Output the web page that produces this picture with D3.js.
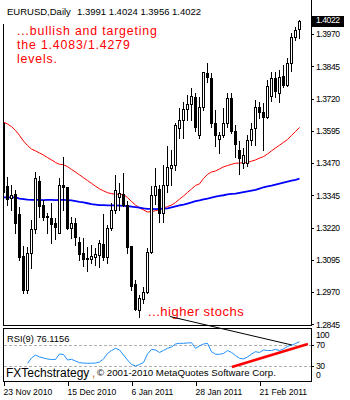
<!DOCTYPE html>
<html>
<head>
<meta charset="utf-8">
<script src="https://cdn.jsdelivr.net/npm/d3@7"></script>
<style>
  html, body { margin: 0; padding: 0; background: #fff; }
  svg { display: block; font-family: "Liberation Sans", Arial, sans-serif; }
</style>
</head>
<body>
<svg id="chart" width="350" height="400"></svg>
<script>
// ---- data: EURUSD daily bars ----
const symbol = "EURUSD,Daily";
const opens  = [1.3624,1.3381,1.3333,1.3350,1.3272,1.3110,1.2978,1.3122,1.3213,1.3401,
                1.3307,1.3265,1.3256,1.3239,1.3200,1.3385,1.3376,1.3219,1.3236,1.3165,
                1.3120,1.3102,1.3099,1.3107,1.3113,1.3156,1.3104,1.3217,1.3288,1.3339,
                1.3349,1.3307,1.3148,1.3001,1.2900,1.2942,1.2971,1.3126,1.3346,1.3368,
                1.3277,1.3385,1.3452,1.3462,1.3604,1.3637,1.3678,1.3699,1.3725,1.3579,
                1.3686,1.3818,1.3798,1.3624,1.3562,1.3579,1.3624,1.3721,1.3594,1.3520,
                1.3470,1.3469,1.3559,1.3604,1.3686,1.3669,1.3649,1.3730,1.3798,1.3742,
                1.3807,1.3772,1.3859,1.3957,1.3991];
const highs  = [1.3644,1.3417,1.3385,1.3365,1.3298,1.3148,1.3146,1.3249,1.3436,1.3420,
                1.3327,1.3275,1.3316,1.3256,1.3411,1.3494,1.3378,1.3262,1.3256,1.3182,
                1.3178,1.3146,1.3152,1.3139,1.3172,1.3271,1.3230,1.3314,1.3423,1.3394,
                1.3432,1.3323,1.3150,1.3017,1.2958,1.2988,1.3139,1.3381,1.3449,1.3385,
                1.3462,1.3536,1.3520,1.3624,1.3682,1.3708,1.3734,1.3760,1.3742,1.3727,
                1.3824,1.3856,1.3820,1.3675,1.3591,1.3682,1.3742,1.3740,1.3617,1.3556,
                1.3528,1.3579,1.3624,1.3714,1.3708,1.3701,1.3792,1.3823,1.3824,1.3830,
                1.3850,1.3876,1.3973,1.3998,1.4024];
const lows   = [1.3334,1.3307,1.3288,1.3200,1.3094,1.2965,1.2967,1.3062,1.3198,1.3262,
                1.3249,1.3200,1.3161,1.3174,1.3198,1.3288,1.3213,1.3178,1.3152,1.3094,
                1.3071,1.3053,1.3081,1.3075,1.3068,1.3094,1.3081,1.3210,1.3277,1.3288,
                1.3304,1.3122,1.2978,1.2900,1.2873,1.2926,1.2965,1.3120,1.3311,1.3242,
                1.3242,1.3359,1.3385,1.3443,1.3566,1.3566,1.3637,1.3637,1.3595,1.3566,
                1.3675,1.3785,1.3608,1.3536,1.3508,1.3572,1.3611,1.3587,1.3493,1.3427,
                1.3451,1.3458,1.3540,1.3540,1.3643,1.3520,1.3645,1.3710,1.3727,1.3708,
                1.3766,1.3768,1.3828,1.3947,1.3956];
const closes = [1.3359,1.3329,1.3346,1.3236,1.3107,1.2978,1.3122,1.3213,1.3411,1.3303,
                1.3262,1.3260,1.3234,1.3223,1.3385,1.3376,1.3217,1.3236,1.3184,1.3117,
                1.3097,1.3097,1.3110,1.3117,1.3159,1.3104,1.3217,1.3288,1.3365,1.3353,
                1.3307,1.3146,1.2993,1.2903,1.2947,1.2971,1.3126,1.3346,1.3381,1.3277,
                1.3385,1.3456,1.3462,1.3617,1.3637,1.3678,1.3699,1.3730,1.3608,1.3688,
                1.3822,1.3802,1.3624,1.3579,1.3579,1.3624,1.3721,1.3595,1.3544,1.3488,
                1.3501,1.3559,1.3601,1.3688,1.3669,1.3649,1.3768,1.3798,1.3750,1.3802,
                1.3771,1.3859,1.3957,1.3986,1.4022];

// moving averages (red = fast, blue = slow)
const maFast = [1.3629,1.3621,1.3611,1.3596,1.3577,1.3555,1.3538,1.3524,1.3517,1.3509,
                1.3501,1.3491,1.3482,1.3472,1.3465,1.3463,1.3456,1.3445,1.3435,1.3424,
                1.3413,1.3402,1.3391,1.3380,1.3370,1.3362,1.3355,1.3351,1.3349,1.3349,
                1.3348,1.3336,1.3321,1.3307,1.3296,1.3288,1.3280,1.3282,1.3285,1.3290,
                1.3296,1.3301,1.3307,1.3317,1.3330,1.3342,1.3356,1.3369,1.3383,1.3389,
                1.3410,1.3426,1.3435,1.3439,1.3447,1.3455,1.3460,1.3465,1.3469,1.3470,
                1.3471,1.3472,1.3477,1.3482,1.3489,1.3495,1.3505,1.3517,1.3528,1.3539,
                1.3550,1.3561,1.3577,1.3592,1.3608];
const maSlow = [1.3337,1.3337,1.3337,1.3337,1.3332,1.3330,1.3328,1.3327,1.3327,1.3327,
                1.3326,1.3327,1.3327,1.3326,1.3327,1.3327,1.3326,1.3325,1.3322,1.3319,
                1.3317,1.3314,1.3311,1.3309,1.3307,1.3307,1.3306,1.3306,1.3306,1.3305,
                1.3304,1.3303,1.3301,1.3299,1.3297,1.3294,1.3292,1.3292,1.3291,1.3292,
                1.3293,1.3294,1.3298,1.3302,1.3306,1.3309,1.3313,1.3317,1.3322,1.3325,
                1.3329,1.3332,1.3336,1.3340,1.3343,1.3345,1.3348,1.3350,1.3351,1.3354,
                1.3357,1.3360,1.3363,1.3366,1.3371,1.3376,1.3379,1.3382,1.3386,1.3390,
                1.3394,1.3398,1.3402,1.3405,1.3409];

// RSI(9), first value belongs to bar index rsiStart
const rsiStart = 6;
const rsiValues = [34.9,45.3,50.9,47.2,45.3,43.4,42.5,42.5,52.8,51.9,
                   41.5,42.8,39.6,36.4,35.8,35.3,35.5,35.8,37.7,43.4,
                   53.8,59.4,63.6,60.4,50.9,41.5,33.0,30.2,33.0,36.8,
                   52.8,61.7,60.4,55.7,59.4,63.6,66.0,71.7,73.0,73.0,
                   73.6,74.2,63.6,67.9,71.7,73.0,57.2,52.3,52.3,53.8,
                   59.4,55.7,50.0,44.7,43.4,47.2,52.8,57.2,55.7,60.4,
                   59.4,59.4,61.7,59.4,62.3,67.4,69.4,72.6,76.1156];

// axis ticks
const priceTicks = [1.3970,1.3845,1.3720,1.3595,1.3470,1.3345,1.3220,1.3095,1.2970,1.2845];
const rsiLevels = [70, 30];
const rsiLabels = [100, 70, 30, 0];
const dateTickBars = [0, 16, 32, 48, 64];
const dateLabels = ["23 Nov 2010", "15 Dec 2010", "6 Jan 2011", "28 Jan 2011", "21 Feb 2011"];

// annotations
const noteLines = ["...bullish and targeting", "the 1.4083/1.4279", "levels."];
const stochNote = "...higher stochs";
const rsiTrend = [[57.1, 28.3], [76.1, 71.7]];           // [bar, rsi]
const linkStart = [41.6, 1.2875];                         // [bar, price]
const linkEnd = [72.1, 69.8];                             // [bar, rsi]
const brandText = "FXTechstrategy";
const copyrightText = "\u00a9 2001-2010 MetaQuotes Software Corp.";

// ---- layout ----
const svg = d3.select("#chart");
const fmt4 = d3.format(".4f");
const nBars = closes.length;

const x = d3.scaleLinear().domain([0, nBars - 1]).range([3.5, 3.5 + 4 * (nBars - 1)]);
const y = d3.scaleLinear().domain([1.2845, 1.3970]).range([324.25, 34]);
const ry = d3.scaleLinear().domain([0, 100]).range([382, 329]);

const mainLeft = 3, mainRight = 311, mainBottom = 326;

svg.append("defs").append("clipPath").attr("id", "mainClip")
  .append("rect").attr("x", mainLeft).attr("y", 0)
  .attr("width", mainRight - mainLeft).attr("height", mainBottom);

// frames
const frame = svg.append("g").attr("stroke", "#000").attr("stroke-width", 1)
  .attr("shape-rendering", "crispEdges");
frame.append("line").attr("x1", 3.5).attr("x2", 3.5).attr("y1", 24).attr("y2", 326);
frame.append("line").attr("x1", 3).attr("x2", 312).attr("y1", 325.5).attr("y2", 325.5);
frame.append("line").attr("x1", 311.5).attr("x2", 311.5).attr("y1", 0).attr("y2", 326);
frame.append("rect").attr("x", 3.5).attr("y", 328.5).attr("width", 308).attr("height", 53)
  .attr("fill", "none");

// ---- main panel ----
const main = svg.append("g").attr("clip-path", "url(#mainClip)");

const maLine = d3.line().x((d, i) => x(i)).y(d => y(d));
main.append("path").datum(maFast).attr("d", maLine)
  .attr("fill", "none").attr("stroke", "#ff0000").attr("stroke-width", 1);
main.append("path").datum(maSlow).attr("d", maLine)
  .attr("fill", "none").attr("stroke", "#0000ff").attr("stroke-width", 1.8);

const bars = d3.range(nBars).map(i => ({i, o: opens[i], h: highs[i], l: lows[i], c: closes[i]}));
const cg = main.append("g").attr("shape-rendering", "crispEdges");
cg.selectAll("line.wick").data(bars).join("line")
  .attr("class", "wick")
  .attr("x1", d => x(d.i)).attr("x2", d => x(d.i))
  .attr("y1", d => Math.round(y(d.h))).attr("y2", d => Math.round(y(d.l)) + 1)
  .attr("stroke", "#000").attr("stroke-width", 1);
cg.selectAll("rect.body").data(bars).join("rect")
  .attr("class", "body")
  .attr("x", d => x(d.i) - 1)
  .attr("y", d => Math.round(y(Math.max(d.o, d.c))) + 0.5)
  .attr("width", 2)
  .attr("height", d => Math.round(y(Math.min(d.o, d.c))) - Math.round(y(Math.max(d.o, d.c))))
  .attr("fill", d => d.c >= d.o ? "#fff" : "#000")
  .attr("stroke", "#000").attr("stroke-width", 1);

// price axis
const yAxis = d3.axisRight(y).tickValues(priceTicks).tickFormat(fmt4).tickSize(3).tickPadding(2);
const ya = svg.append("g").attr("transform", "translate(311,0)").call(yAxis);
ya.select(".domain").remove();
ya.selectAll("line").attr("stroke", "#000").attr("shape-rendering", "crispEdges");
ya.selectAll("text").attr("fill", "#000").attr("font-size", "8.6px")
  .attr("letter-spacing", "-0.45px").attr("font-family", "'Liberation Sans', Arial, sans-serif");

// current price box
const last = bars[nBars - 1];
svg.append("rect").attr("x", 312).attr("y", Math.round(y(last.c)) - 5)
  .attr("width", 32).attr("height", 11).attr("fill", "#000");
svg.append("text").attr("x", 316).attr("y", y(last.c)).attr("dy", "0.33em")
  .attr("fill", "#fff").attr("font-size", "8.6px").attr("letter-spacing", "-0.45px")
  .text(fmt4(last.c));

// header
svg.append("text").attr("x", 7).attr("y", 14.7).attr("font-size", "9.5px").attr("fill", "#000")
  .text(symbol);
svg.append("text").attr("x", 77).attr("y", 14.7).attr("font-size", "9.5px").attr("fill", "#000")
  .text([last.o, last.h, last.l, last.c].map(fmt4).join(" "));

// red comment
svg.append("g").selectAll("text").data(noteLines).join("text")
  .attr("x", 17).attr("y", (d, i) => 35.3 + i * 14)
  .attr("font-size", "12.3px").attr("letter-spacing", "0.85px")
  .attr("fill", "#ff0000").text(d => d);
svg.append("text").attr("x", 148).attr("y", 316).attr("font-size", "13px")
  .attr("letter-spacing", "0.5px").attr("fill", "#ff0000").text(stochNote);

// ---- RSI panel ----
const rg = svg.append("g");
rg.selectAll("line.lvl").data(rsiLevels).join("line")
  .attr("class", "lvl")
  .attr("x1", 4).attr("x2", 311)
  .attr("y1", d => Math.round(ry(d)) + 0.5).attr("y2", d => Math.round(ry(d)) + 0.5)
  .attr("stroke", "#b0b0b0").attr("stroke-dasharray", "3,2")
  .attr("shape-rendering", "crispEdges");

const rsiLine = d3.line().x((d, i) => x(i + rsiStart)).y(d => ry(d));
rg.append("path").datum(rsiValues).attr("d", rsiLine)
  .attr("fill", "none").attr("stroke", "#1e90ff").attr("stroke-width", 1);

rg.append("text").attr("x", 7).attr("y", 341.5).attr("font-size", "9.3px").attr("fill", "#000")
  .text("RSI(9) " + fmt4(rsiValues[rsiValues.length - 1]));

// RSI scale labels
rg.selectAll("line.rtick").data(rsiLevels).join("line")
  .attr("class", "rtick")
  .attr("x1", 311).attr("x2", 314)
  .attr("y1", d => Math.round(ry(d)) + 0.5).attr("y2", d => Math.round(ry(d)) + 0.5)
  .attr("stroke", "#000").attr("shape-rendering", "crispEdges");
rg.selectAll("text.rl").data(rsiLabels).join("text")
  .attr("class", "rl")
  .attr("x", 316)
  .attr("y", d => d === 100 ? ry(d) + 6 : d === 0 ? ry(d) - 7 : ry(d))
  .attr("dy", "0.35em")
  .attr("font-size", "8.6px").attr("letter-spacing", "-0.45px").attr("fill", "#000")
  .text(d => d);

// trend line under RSI lows
rg.append("line")
  .attr("x1", x(rsiTrend[0][0])).attr("y1", ry(rsiTrend[0][1]))
  .attr("x2", x(rsiTrend[1][0])).attr("y2", ry(rsiTrend[1][1]))
  .attr("stroke", "#ff0000").attr("stroke-width", 2.5);

// link from price lows down to RSI
svg.append("line")
  .attr("x1", x(linkStart[0])).attr("y1", y(linkStart[1]))
  .attr("x2", x(linkEnd[0])).attr("y2", ry(linkEnd[1]))
  .attr("stroke", "#000").attr("stroke-width", 1);

// footer texts inside RSI panel
svg.append("text").attr("x", 6).attr("y", 376.5).attr("font-size", "12px").attr("fill", "#000")
  .text(brandText);
svg.append("text").attr("x", 92).attr("y", 376.5).attr("font-size", "12px").attr("fill", "#c8781e")
  .text(",");
svg.append("text").attr("x", 97).attr("y", 376).attr("font-size", "9.7px").attr("fill", "#000")
  .text(copyrightText);

// date axis
const xAxis = d3.axisBottom(x).tickValues(dateTickBars)
  .tickFormat((d, i) => dateLabels[i]).tickSize(4).tickPadding(3);
const xa = svg.append("g").attr("transform", "translate(0,382)").call(xAxis);
xa.select(".domain").remove();
xa.selectAll("line").attr("stroke", "#000").attr("shape-rendering", "crispEdges");
xa.selectAll("text").attr("text-anchor", "start").attr("dx", "-0.5")
  .attr("fill", "#000").attr("font-size", "8.6px")
  .attr("font-family", "'Liberation Sans', Arial, sans-serif");
</script>
</body>
</html>
